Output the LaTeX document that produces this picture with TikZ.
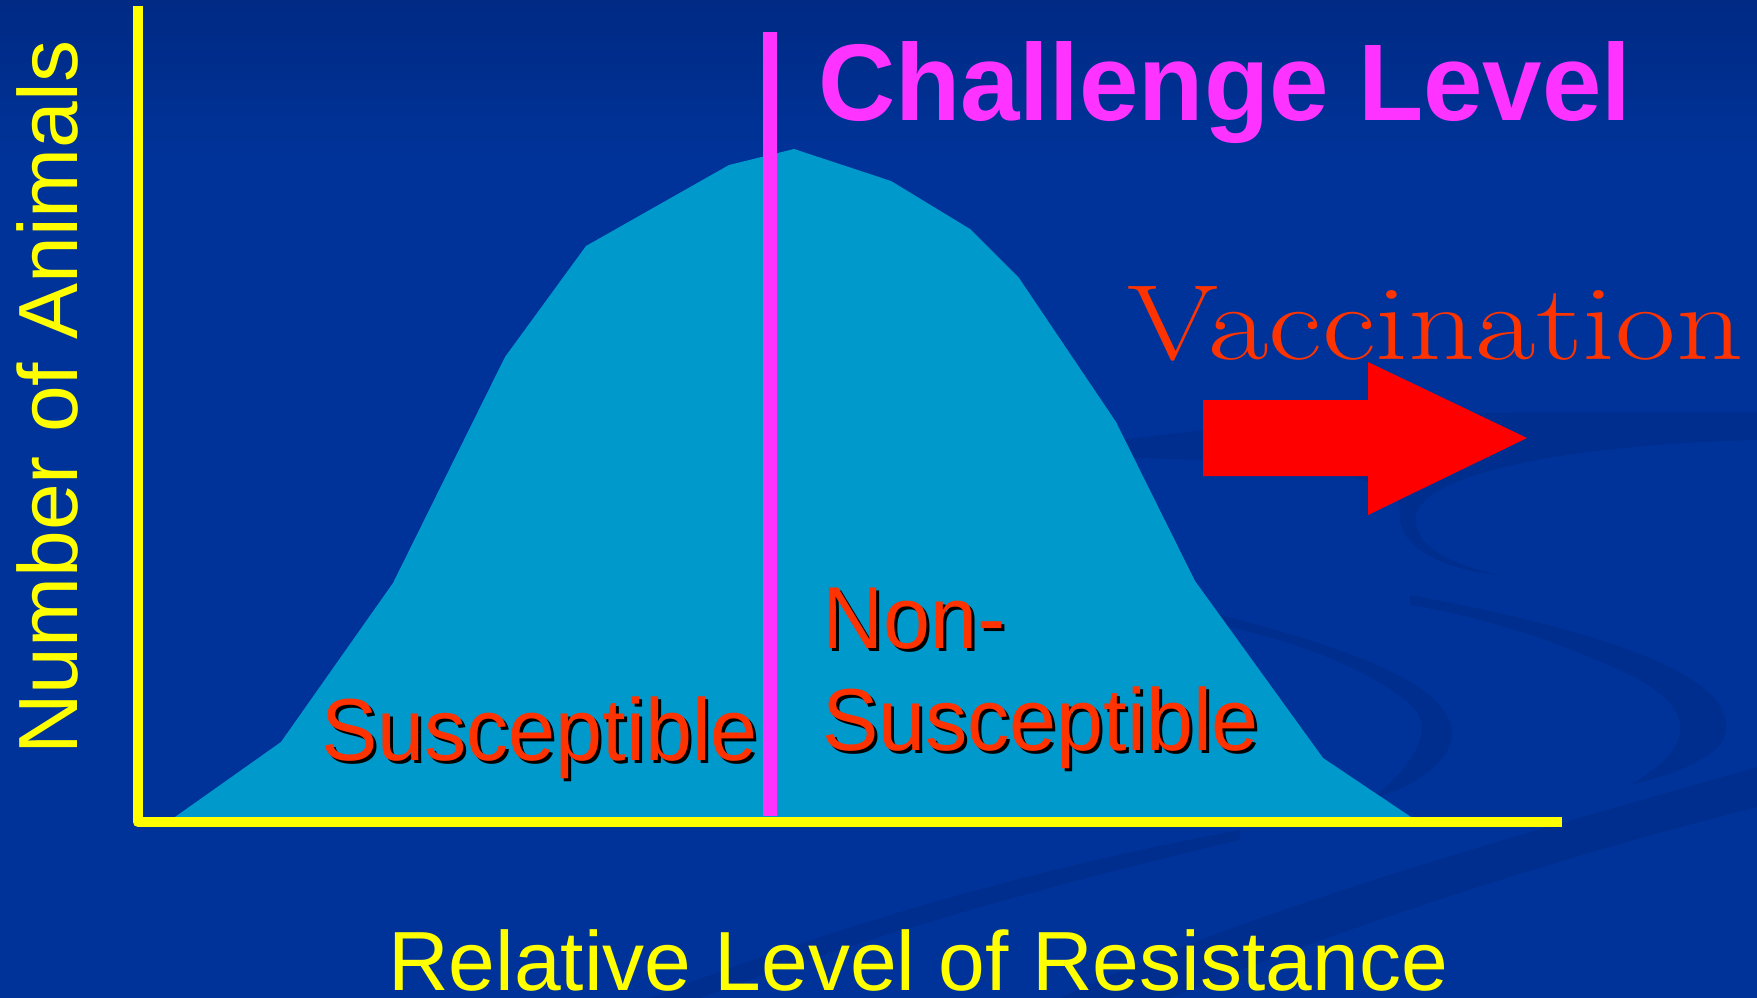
\documentclass[tikz,border=0pt]{standalone}
\usepackage{fontspec}
\setsansfont{Liberation Sans}
\usetikzlibrary{positioning}
\definecolor{bgblue}{RGB}{0,51,153}
\definecolor{bgtop}{RGB}{0,42,132}
\definecolor{swoosh}{RGB}{0,46,143}
\definecolor{bellblue}{RGB}{0,153,204}
\definecolor{axisyellow}{RGB}{255,255,0}
\definecolor{challenge}{RGB}{255,51,255}
\definecolor{labelred}{RGB}{255,51,0}
\definecolor{arrowred}{RGB}{255,0,0}

\begin{document}
\begin{tikzpicture}[x=1pt,y=-1pt,
    axis/.style={draw=axisyellow,line width=10pt,line join=round},
    lbl/.style={inner sep=0pt,anchor=base west,text=labelred,
      font=\sffamily\fontsize{88}{100}\selectfont,xscale=0.96},
    lblshadow/.style={lbl,text=black},
    axislabel/.style={inner sep=0pt,text=axisyellow,
      font=\sffamily\fontsize{84}{100}\selectfont}]
  % background
  \useasboundingbox (0,0) rectangle (1757,998);
  \fill[bgblue] (0,0) rectangle (1757,998);
  \shade[top color=bgtop,bottom color=bgblue] (0,0) rectangle (1757,160);
  \fill[swoosh] (1120,440) .. controls (1350,412) .. (1757,412) -- (1757,440)
    .. controls (1560,445) and (1425,475) .. (1416,515)
    .. controls (1412,545) and (1450,565) .. (1500,575)
    .. controls (1440,570) and (1395,545) .. (1400,510)
    .. controls (1400,480) and (1330,462) .. (1130,458) -- cycle;
  \fill[swoosh] (1220,615) .. controls (1380,655) and (1480,700) .. (1445,755)
    .. controls (1425,780) and (1400,790) .. (1370,800)
    .. controls (1415,765) and (1440,725) .. (1405,700)
    .. controls (1360,665) and (1290,640) .. (1220,625) -- cycle;
  \fill[swoosh] (1410,595) .. controls (1600,630) and (1760,680) .. (1720,745)
    .. controls (1700,765) and (1670,775) .. (1630,785)
    .. controls (1690,750) and (1700,715) .. (1640,680)
    .. controls (1580,650) and (1500,620) .. (1410,605) -- cycle;
  \fill[swoosh] (1757,767) .. controls (1500,840) and (1250,910) .. (1060,998)
    -- (1170,998) .. controls (1350,925) and (1550,860) .. (1757,807) -- cycle;
  \fill[swoosh] (1240,830) .. controls (1050,865) and (850,920) .. (650,998)
    -- (700,998) .. controls (870,935) and (1050,885) .. (1240,840) -- cycle;

  % bell curve of resistance
  \fill[bellblue] (175,817) -- (281,742) -- (393,583) -- (505,357) -- (586,246)
    -- (729,165) -- (794,149) -- (891,181) -- (970,229) -- (1019,278)
    -- (1116,422) -- (1195,581) -- (1323,758) -- (1411,817) -- cycle;

  % axes
  \coordinate (Ytop) at (138,6);
  \coordinate (O) at (138,822);
  \coordinate (Xend) at (1562,822);
  \draw[axis] (Ytop) -- (O) -- (Xend);

  % challenge level
  \coordinate (CLtop) at (770,32);
  \coordinate (CLbot) at (770,816);
  \draw[challenge,line width=14pt] (CLtop) -- (CLbot);
  \node (CL) [inner sep=0pt,anchor=base west,text=challenge,xscale=0.98,
    font=\sffamily\bfseries\fontsize{109}{110}\selectfont] at (818,120) {Challenge Level};

  % vaccination
  \node (VC) [inner sep=0pt,anchor=base west,text=labelred,xscale=1.23,
    font=\rmfamily\fontsize{107}{110}\selectfont] at (1127,359) {Vaccination};
  \fill[arrowred] (1203,400) -- (1368,400) -- (1368,362) -- (1527,438)
    -- (1368,515) -- (1368,476) -- (1203,476) -- cycle;

  % regions
  \node (Ssh) [lblshadow] at (324,763) {Susceptible};
  \node (S) [lbl] at (321,760) {Susceptible};
  \node (NSash) [lblshadow] at (825,651) {Non-};
  \node (NSa) [lbl] at (822,648) {Non-};
  \node (NSbsh) [lblshadow] at (825,753) {Susceptible};
  \node (NSb) [lbl] at (822,750) {Susceptible};

  % axis labels
  \node (YL) [axislabel,anchor=base west,rotate=90] at (77,755) {Number of Animals};
  \node (XL) [axislabel,anchor=base,text depth=0pt] at (918,990) {Relative Level of Resistance};
\end{tikzpicture}
\end{document}
